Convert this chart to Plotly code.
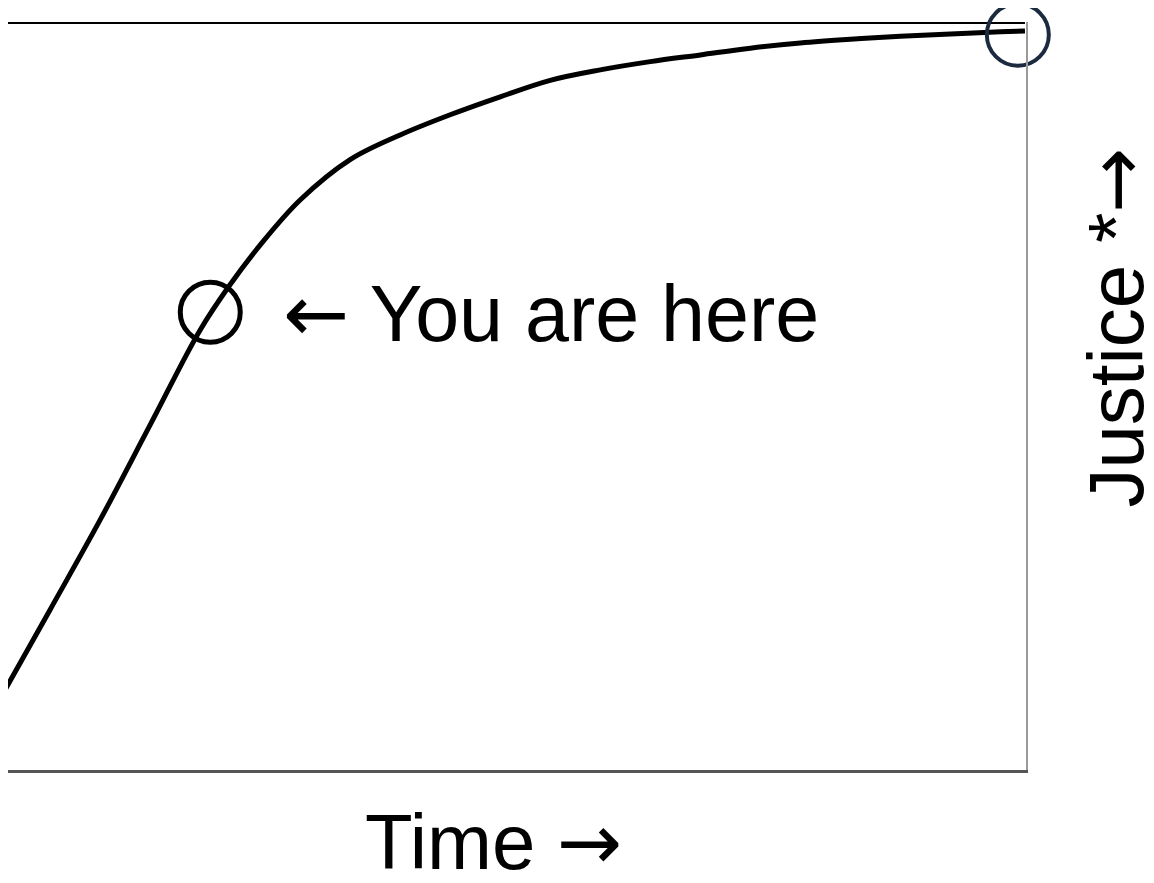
import plotly.graph_objects as go

# curve (time 0-100, justice 0-100)
time = [0, 4.4, 9.3, 14.2, 19.1, 22.0, 25.0, 28.9, 33.8, 38.7, 43.6, 48.5, 53.4,
        58.3, 63.2, 68.1, 73.0, 77.9, 82.8, 87.7, 92.6, 97.5, 99.9]
justice = [10.7, 21.4, 33.4, 46.1, 58.8, 64.8, 70.2, 76.2, 81.6, 84.9, 87.6, 90.0, 92.2,
           93.6, 94.7, 95.6, 96.5, 97.2, 97.7, 98.1, 98.4, 98.7, 98.8]

# the limit line at the top
limit_x = [-0.5, 99.9]
limit_y = [100, 100]

# circled points
here_x, here_y = [20.1], [61.2]
end_x, end_y = [99.2], [98.3]

arrow_font = 'font-family:DejaVu Sans'

fig = go.Figure()

fig.add_trace(go.Scatter(x=limit_x, y=limit_y, mode='lines',
                         line=dict(color='black', width=4), cliponaxis=False))
fig.add_trace(go.Scatter(x=time, y=justice, mode='lines', line_shape='spline',
                         line=dict(color='black', width=5), cliponaxis=False))
fig.add_trace(go.Scatter(x=here_x, y=here_y, mode='markers', cliponaxis=False,
                         marker=dict(symbol='circle-open', size=60, color='black',
                                     line=dict(width=5))))
fig.add_trace(go.Scatter(x=end_x, y=end_y, mode='markers', cliponaxis=False,
                         marker=dict(symbol='circle-open', size=62, color='#1c2a40',
                                     line=dict(width=4))))

fig.add_annotation(x=27.0, y=60.9, xref='x', yref='y',
                   text=f'<span style="{arrow_font}">←</span> You are here',
                   showarrow=False, xanchor='left', yanchor='middle',
                   font=dict(family='Liberation Sans, Arial', size=79, color='black'))
fig.add_annotation(x=0.477, y=-0.096, xref='paper', yref='paper',
                   text=f'Time <span style="{arrow_font}">→</span>',
                   showarrow=False, xanchor='center', yanchor='middle',
                   font=dict(family='Liberation Sans, Arial', size=78, color='black'))
fig.add_annotation(x=1.088, y=0.591, xref='paper', yref='paper',
                   text=f'Justice *<span style="{arrow_font}">→</span>',
                   textangle=-90, showarrow=False, xanchor='center', yanchor='middle',
                   font=dict(family='Liberation Sans, Arial', size=78, color='black'))

# the page adds an 8px body margin, so the figure is 8px smaller each way
fig.update_layout(
    width=1146, height=875,
    margin=dict(l=0, r=128, t=14, b=113, autoexpand=False),
    plot_bgcolor='white', paper_bgcolor='white',
    showlegend=False,
    xaxis=dict(range=[0.29, 100], showgrid=False, zeroline=False, showticklabels=False,
               ticks='', showline=True, linecolor='#555555', linewidth=3),
    yaxis=dict(range=[0, 100], showgrid=False, zeroline=False, showticklabels=False,
               ticks='', side='right', showline=True, linecolor='#9a9a9a', linewidth=2),
)

fig.write_html("out.html")
